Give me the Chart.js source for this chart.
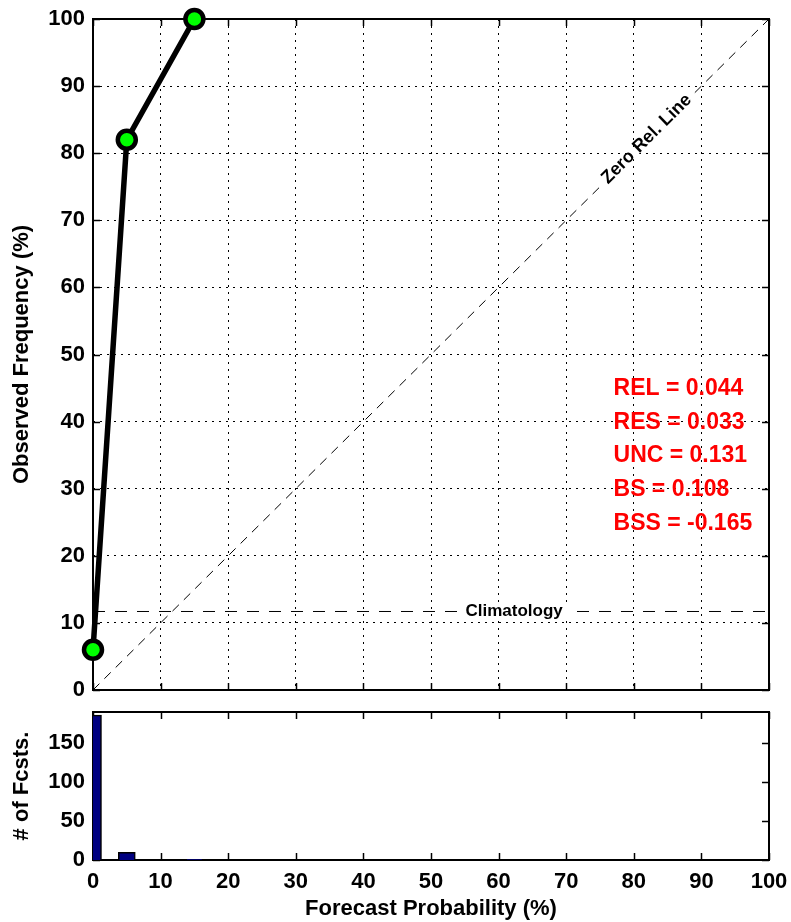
<!DOCTYPE html>
<html><head><meta charset="utf-8">
<script src="https://cdn.jsdelivr.net/npm/chart.js@4.4.1/dist/chart.umd.min.js"></script>
<style>
html,body{margin:0;padding:0;background:#fff;}
#wrap{position:relative;width:791px;height:922px;overflow:hidden;}
#top{position:absolute;left:0;top:0;}
#bot{position:absolute;left:0;top:700px;}
</style></head><body>
<div id="wrap"><canvas id="top" width="791" height="720"></canvas><canvas id="bot" width="791" height="222"></canvas></div>
<script>
// ---- data ----
const forecastProb = [0, 5, 15];
const observedFreq = [6, 82, 100];
const fcstCounts = [186, 10, 1];
const climatology = 11.7;
const zeroRelLine = [0, 100];
const xTicks = [0, 10, 20, 30, 40, 50, 60, 70, 80, 90, 100];
const yTicksTop = [0, 10, 20, 30, 40, 50, 60, 70, 80, 90, 100];
const yTicksBottom = [0, 50, 100, 150];
const statLabels = ['REL = 0.044', 'RES = 0.033', 'UNC = 0.131', 'BS = 0.108', 'BSS = -0.165'];

const FONT = '"Liberation Sans", Arial, Helvetica, sans-serif';
const tickFont = {family: FONT, size: 22, weight: 'bold'};
const titleFont = {family: FONT, size: 22, weight: 'bold'};

function seg(ctx, x1, y1, x2, y2) { ctx.beginPath(); ctx.moveTo(x1, y1); ctx.lineTo(x2, y2); ctx.stroke(); }

const framePlugin = {
  id: 'frame',
  beforeDatasetsDraw(chart) {
    const {ctx, chartArea: a, scales} = chart;
    ctx.save();
    ctx.strokeStyle = '#000';
    ctx.lineWidth = 1.5;
    const L = 7;
    scales.x.ticks.forEach(t => {
      const px = Math.round(scales.x.getPixelForValue(t.value)) + 0.5;
      seg(ctx, px, a.bottom, px, a.bottom - L);
      seg(ctx, px, a.top, px, a.top + L);
    });
    scales.y.ticks.forEach(t => {
      const py = Math.round(scales.y.getPixelForValue(t.value)) + 0.5;
      seg(ctx, a.left, py, a.left + L, py);
      seg(ctx, a.right, py, a.right - L, py);
    });
    ctx.lineWidth = 2;
    ctx.strokeRect(a.left, a.top, a.right - a.left, a.bottom - a.top);
    ctx.restore();
  }
};

const labelPlugin = {
  id: 'labels',
  afterDatasetsDraw(chart) {
    const {ctx, scales: {x, y}} = chart;
    ctx.save();
    // Climatology label
    ctx.font = 'bold 17px ' + FONT;
    ctx.textAlign = 'center';
    ctx.textBaseline = 'middle';
    let cx = x.getPixelForValue(62.3), cy = y.getPixelForValue(climatology);
    let w = ctx.measureText('Climatology').width;
    ctx.fillStyle = '#fff';
    ctx.fillRect(cx - w / 2 - 7, cy - 7, w + 14, 14);
    ctx.fillStyle = '#000';
    ctx.fillText('Climatology', cx, cy);
    // Zero Rel. Line label
    const zx = x.getPixelForValue(82), zy = y.getPixelForValue(82);
    const ang = Math.atan2(y.getPixelForValue(100) - y.getPixelForValue(0), x.getPixelForValue(100) - x.getPixelForValue(0));
    ctx.translate(zx, zy);
    ctx.rotate(ang);
    ctx.font = 'bold 18px ' + FONT;
    w = ctx.measureText('Zero Rel. Line').width;
    ctx.fillStyle = '#fff';
    ctx.fillRect(-w / 2 - 6, -2, w + 12, 6);
    ctx.fillStyle = '#000';
    ctx.textBaseline = 'alphabetic';
    ctx.fillText('Zero Rel. Line', 0, 4);
    ctx.restore();
    // Stats
    ctx.save();
    ctx.font = 'bold 23px ' + FONT;
    ctx.fillStyle = '#ff0000';
    ctx.textAlign = 'left';
    ctx.textBaseline = 'middle';
    const sx = x.getPixelForValue(77);
    statLabels.forEach((s, i) => {
      ctx.fillText(s, sx, y.getPixelForValue(45 - 5 * i) + 1);
    });
    ctx.restore();
  }
};

const gridCommon = {color: '#000', lineWidth: 1, drawTicks: false};
const borderCommon = {display: false, dash: [2, 5]};
const noPadY = s => { s.paddingTop = 0; s.paddingBottom = 0; };
const noPadX = s => { s.paddingLeft = 0; s.paddingRight = 0; };

new Chart(document.getElementById('top'), {
  type: 'line',
  data: {
    datasets: [
      {
        data: forecastProb.map((v, i) => ({x: v, y: observedFreq[i]})),
        borderColor: '#000', borderWidth: 5.5,
        pointRadius: 9, pointBorderWidth: 4.5, pointBackgroundColor: '#00ff00', pointBorderColor: '#000',
        clip: false, order: 0
      },
      {
        data: zeroRelLine.map(v => ({x: v, y: v})),
        borderColor: '#000', borderWidth: 1, borderDash: [9, 7], pointRadius: 0, order: 1
      },
      {
        data: zeroRelLine.map(v => ({x: v, y: climatology})),
        borderColor: '#000', borderWidth: 1, borderDash: [12, 10], pointRadius: 0, order: 2
      }
    ]
  },
  options: {
    responsive: false, animation: false, devicePixelRatio: 1,
    layout: {padding: {top: 19, right: 22, left: 0, bottom: 0}},
    plugins: {legend: {display: false}, tooltip: {enabled: false}},
    scales: {
      x: {
        type: 'linear', min: 0, max: 100,
        afterBuildTicks: s => { s.ticks = xTicks.map(v => ({value: v})); },
        ticks: {display: false},
        grid: gridCommon, border: borderCommon,
        afterFit: s => { s.height = 30; noPadX(s); }
      },
      y: {
        type: 'linear', min: 0, max: 100,
        afterBuildTicks: s => { s.ticks = yTicksTop.map(v => ({value: v})); },
        ticks: {font: tickFont, color: '#000', padding: 8},
        grid: gridCommon, border: borderCommon,
        title: {display: true, text: 'Observed Frequency (%)', font: titleFont, color: '#000', padding: {top: 9, bottom: 0}},
        afterFit: s => { s.width = 93; noPadY(s); }
      }
    }
  },
  plugins: [framePlugin, labelPlugin]
});

new Chart(document.getElementById('bot'), {
  type: 'bar',
  data: {
    datasets: [{
      data: forecastProb.map((v, i) => ({x: v, y: fcstCounts[i]})),
      backgroundColor: '#000080', borderColor: '#000', borderWidth: 1.5,
      barThickness: 17, clip: 0
    }]
  },
  options: {
    responsive: false, animation: false, devicePixelRatio: 1,
    layout: {padding: {top: 12, right: 22, left: 0, bottom: 0}},
    plugins: {legend: {display: false}, tooltip: {enabled: false}},
    scales: {
      x: {
        type: 'linear', min: 0, max: 100, offset: false,
        afterBuildTicks: s => { s.ticks = xTicks.map(v => ({value: v})); },
        ticks: {font: tickFont, color: '#000', padding: 9, maxRotation: 0, autoSkip: false},
        grid: {display: false, drawTicks: false, offset: false}, border: {display: false},
        title: {display: true, text: 'Forecast Probability (%)', font: titleFont, color: '#000', padding: {top: 0, bottom: 0}},
        afterFit: s => { s.height = 62; noPadX(s); }
      },
      y: {
        type: 'linear', min: 0, max: 190,
        afterBuildTicks: s => { s.ticks = yTicksBottom.map(v => ({value: v})); },
        ticks: {font: tickFont, color: '#000', padding: 8},
        grid: {display: false, drawTicks: false}, border: {display: false},
        title: {display: true, text: '# of Fcsts.', font: titleFont, color: '#000', padding: {top: 9, bottom: 0}},
        afterFit: s => { s.width = 93; noPadY(s); }
      }
    }
  },
  plugins: [framePlugin]
});
</script>
</body></html>
